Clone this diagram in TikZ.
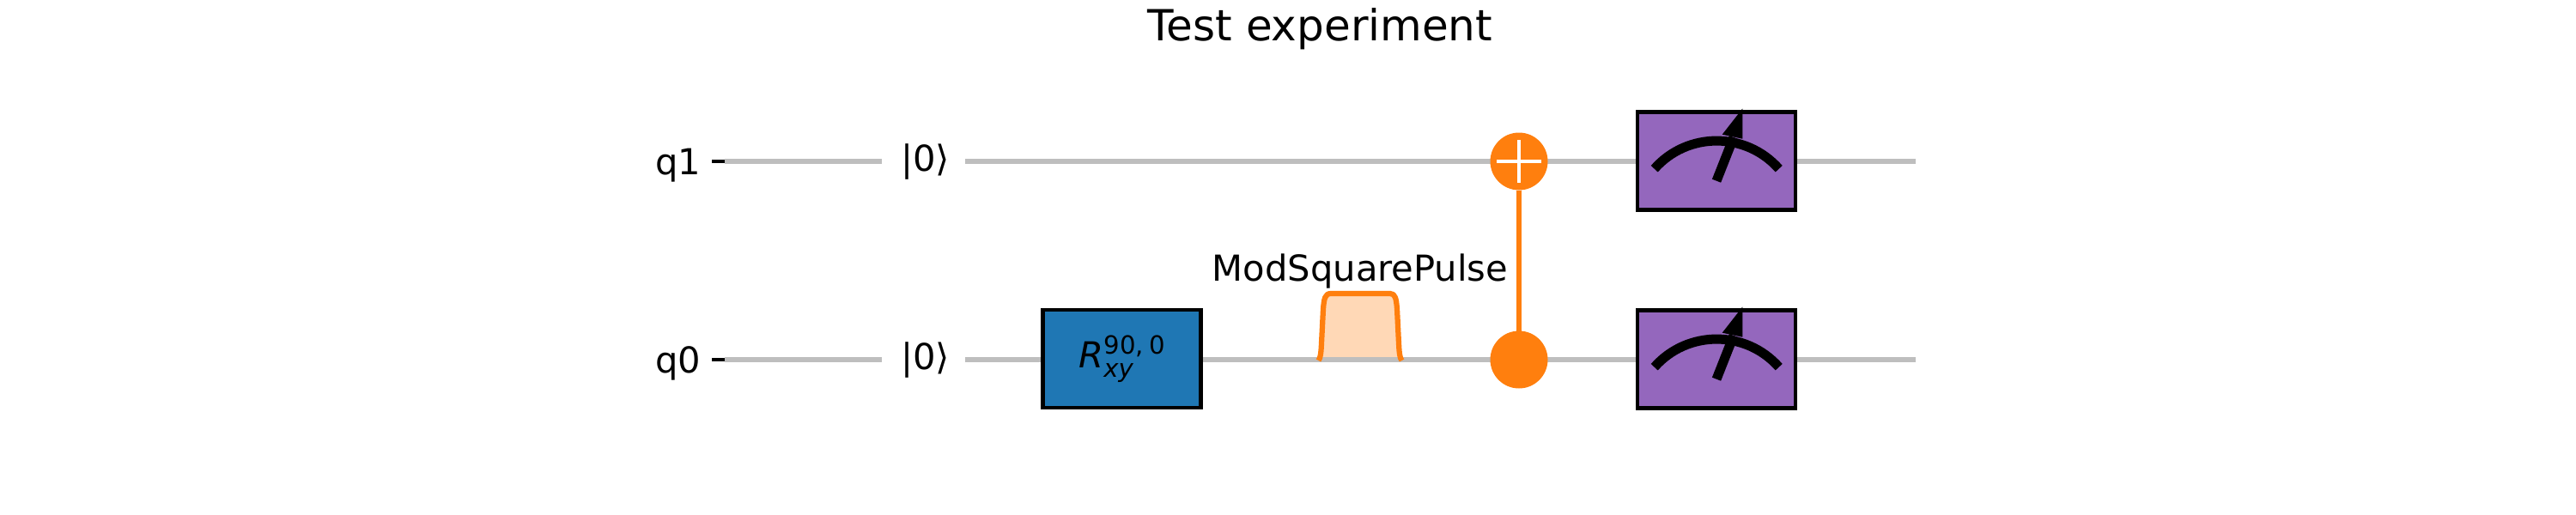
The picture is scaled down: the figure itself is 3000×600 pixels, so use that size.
\documentclass[tikz,border=0pt]{standalone}
\usepackage{fontspec}
\setmainfont{DejaVu Sans}
\usetikzlibrary{backgrounds}
\definecolor{wirecol}{HTML}{BEBEBE}
\definecolor{tabblue}{HTML}{1F77B4}
\definecolor{taborange}{HTML}{FF7F0E}
\definecolor{tabpurple}{HTML}{9467BD}
\definecolor{pulsefill}{HTML}{FFD8B6}
\newcommand{\bodysize}{\fontsize{20.83}{25}\selectfont}
\newcommand{\scriptsizeq}{\fontsize{14.58}{17}\selectfont}
\tikzset{
  x=0.5pt,y=-0.5pt,
  wire/.style={draw=wirecol,line width=3.125pt},
  gatebox/.style={draw=black,line width=2.08pt,minimum width=92pt,minimum height=57pt,inner sep=0pt,outer sep=0pt},
  dot/.style={circle,fill=taborange,minimum size=33.5pt,inner sep=0pt,outer sep=0pt},
  txt/.style={font=\bodysize,inner sep=0pt,outer sep=0pt},
  ket/.style={txt,minimum width=48.75pt,text height=20.5pt,text depth=9.5pt,align=center},
  tick/.style={draw=black,line width=1.67pt},
  ctrl/.style={draw=taborange,line width=3.125pt},
  meterline/.style={draw=black,line width=5.5pt}
}
\begin{document}
\begin{tikzpicture}
\useasboundingbox (0,0) rectangle (3000,600);
% title
\node[txt,font=\fontsize{25}{30}\selectfont,anchor=base] (title) at (1537.5,47) {Test experiment};
% labels
\node[txt,anchor=base west] (q1) at (763.5,203) {q1};
\node[txt,anchor=base west] (q0) at (763.5,434) {q0};
\coordinate (t1a) at (829.4,188); \coordinate (t1b) at (844,188);
\coordinate (t0a) at (829.4,419); \coordinate (t0b) at (844,419);
\coordinate (e1) at (2231,188); \coordinate (e0) at (2231,419);
% kets
\node[ket] (k1) at (1075.5,188) {\hspace{2pt}|0⟩};
\node[ket] (k0) at (1075.5,419) {\hspace{2pt}|0⟩};
% gates
\node[gatebox,fill=tabblue] (rxy) at (1306.5,418) {};
\node[txt,anchor=base west] (rxytext) at (1256.5,428) {\itshape R\rlap{\raisebox{8pt}{\scriptsizeq\upshape 90,\hspace{3.5pt}0}}\raisebox{-5.5pt}{\scriptsizeq xy}};
\node[dot] (c1) at (1769,188) {};
\node[dot] (c0) at (1769,419) {};
\node[gatebox,fill=tabpurple] (m1) at (1999.3,187.5) {};
\node[gatebox,fill=tabpurple] (m0) at (1999.3,418.5) {};
\node[txt,anchor=base] (pl) at (1584,327) {ModSquarePulse};
% plus
\draw[white,line width=2.08pt] (c1.center) ++(-26,0) -- ++(52,0);
\draw[white,line width=2.08pt] (c1.center) ++(0,-25) -- ++(0,50);
% pulse outline
\draw[ctrl,line join=round]
  (1535.5,420) .. controls (1538,417) and (1538.5,410) .. (1539,400) -- (1541,360)
  .. controls (1542,348) and (1543,342) .. (1550,342) -- (1619,342)
  .. controls (1625,342) and (1626,348) .. (1627,360) -- (1629,400)
  .. controls (1629.5,410) and (1630,417) .. (1632.5,420);
% meters
\foreach \m in {m1,m0}{
  \begin{scope}[shift={(\m.center)}]
    \draw[meterline] (-72.6,9.2) .. controls (-34.2,-34.3) and (34,-34.3) .. (72.4,9.2);
    \draw[meterline] (-0.3,23.2) -- (19.7,-27.5);
    \fill[black] (30,-61) -- (6.4,-30.8) -- (30,-25.8) -- cycle;
  \end{scope}
}
\begin{scope}[on background layer]
  \fill[pulsefill] (1538,419) -- (1539,400) -- (1541,360)
  .. controls (1542,348) and (1543,342) .. (1550,342) -- (1619,342)
  .. controls (1625,342) and (1626,348) .. (1627,360) -- (1629,400) -- (1630,419) -- cycle;
  \draw[tick] (t1a) -- (t1b);
  \draw[tick] (t0a) -- (t0b);
  \draw[wire] (t1b) -- (k1);
  \draw[wire] (t0b) -- (k0);
  \draw[wire] (k1) -- (e1);
  \draw[wire] (k0) -- (e0);
  \draw[ctrl] (c1) -- (c0);
\end{scope}
\end{tikzpicture}
\end{document}
